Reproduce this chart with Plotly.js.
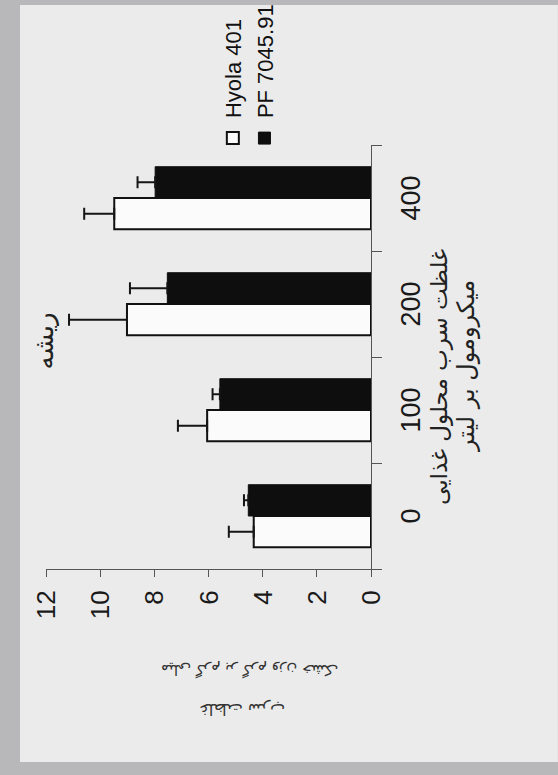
<!DOCTYPE html>
<html>
<head>
<meta charset="utf-8">
<script src="https://cdn.plot.ly/plotly-3.0.1.min.js"></script>
<style>
  html, body { margin: 0; padding: 0; background: #b8b8ba; overflow: hidden; width: 558px; height: 775px; }
  #chart { position: absolute; left: 0; top: 0; width: 775px; height: 558px;
           transform-origin: 0 0; transform: translate(0px, 775px) rotate(-90deg); }
</style>
</head>
<body>
<div id="chart"></div>
<script>
// Data
const categories = ['0', '100', '200', '400'];
const seriesNames = ['Hyola 401', 'PF 7045.91'];
const hyolaValues = [4.33, 6.05, 9.01, 9.48];
const hyolaErrors = [0.92, 1.08, 2.14, 1.11];
const pfValues = [4.53, 5.58, 7.52, 7.97];
const pfErrors = [0.16, 0.27, 1.38, 0.65];
const valueTicks = [0, 2, 4, 6, 8, 10, 12];

const chartTitle = 'ریشه';
const xTitleLine1 = 'غلظت سرب محلول غذایی';
const xTitleLine2 = 'میکرومول بر لیتر';
const yTitleLine1 = 'غلظت سرب';
const yTitleLine2 = 'میلی گرم بر گرم وزن خشک';

const latin = 'Liberation Sans, Arial, sans-serif';
const persian = 'DejaVu Sans, Noto Sans, sans-serif';

const zeros = categories.map(() => 0);

const traces = [
  {
    type: 'bar', name: seriesNames[0], x: categories, y: hyolaValues,
    marker: { color: '#fbfbfb', line: { color: '#111', width: 2 } },
    error_y: { type: 'data', array: hyolaErrors, arrayminus: zeros, symmetric: false,
               color: '#151515', thickness: 2, width: 6 }
  },
  {
    type: 'bar', name: seriesNames[1], x: categories, y: pfValues,
    marker: { color: '#0e0e0e', line: { color: '#0e0e0e', width: 1 } },
    error_y: { type: 'data', array: pfErrors, arrayminus: zeros, symmetric: false,
               color: '#151515', thickness: 2, width: 6 }
  }
];

const layout = {
  width: 775, height: 558, autosize: false,
  margin: { l: 206, r: 145, t: 46, b: 187, autoexpand: false },
  paper_bgcolor: '#b8b8ba',
  plot_bgcolor: 'rgba(0,0,0,0)',
  barmode: 'group', bargap: 0.41, bargroupgap: 0,
  showlegend: true,
  title: { text: chartTitle, x: 0.56, xref: 'container', y: 0.921, yref: 'container',
           xanchor: 'center', yanchor: 'middle', font: { family: persian, size: 26, color: '#222' } },
  xaxis: {
    type: 'category', categoryorder: 'array', categoryarray: categories,
    showline: true, linecolor: '#555', linewidth: 1,
    ticks: 'outside', ticklen: 10, tickcolor: '#555', tickwidth: 1, tickson: 'boundaries',
    ticklabelstandoff: 16,
    tickfont: { family: latin, size: 27, color: '#1a1a1a' },
    showgrid: false, zeroline: false, fixedrange: true
  },
  yaxis: {
    range: [0, 12], tickvals: valueTicks, ticktext: valueTicks.map(String),
    showline: true, linecolor: '#555', linewidth: 1,
    ticks: 'outside', ticklen: 7, tickcolor: '#555', tickwidth: 1,
    ticklabelstandoff: 8,
    tickfont: { family: latin, size: 26, color: '#1a1a1a' },
    showgrid: false, zeroline: false, fixedrange: true
  },
  legend: {
    xref: 'container', yref: 'container', x: 0.796, y: 0.62, xanchor: 'left', yanchor: 'top',
    bgcolor: 'rgba(0,0,0,0)', borderwidth: 0, traceorder: 'normal',
    font: { family: latin, size: 22, color: '#111' }
  },
  shapes: [
    { type: 'rect', xref: 'paper', yref: 'paper', x0: -0.455, x1: 1.33, y0: -0.575, y1: 1.08,
      fillcolor: '#ebebeb', line: { width: 0 }, layer: 'below' }
  ],
  annotations: [
    { text: xTitleLine1, xref: 'paper', yref: 'paper', x: 0.453, y: -0.212, showarrow: false,
      xanchor: 'center', yanchor: 'middle', font: { family: persian, size: 23, color: '#222' } },
    { text: xTitleLine2, xref: 'paper', yref: 'paper', x: 0.479, y: -0.292, showarrow: false,
      xanchor: 'center', yanchor: 'middle', font: { family: persian, size: 24, color: '#222' } },
    { text: yTitleLine1, xref: 'paper', yref: 'paper', x: -0.330, y: 0.394, showarrow: false,
      textangle: -90, xanchor: 'center', yanchor: 'middle', font: { family: persian, size: 16, color: '#333' } },
    { text: yTitleLine2, xref: 'paper', yref: 'paper', x: -0.238, y: 0.372, showarrow: false,
      textangle: -90, xanchor: 'center', yanchor: 'middle', font: { family: persian, size: 15, color: '#333' } }
  ]
};

Plotly.newPlot('chart', traces, layout, { displayModeBar: false, staticPlot: true, responsive: false });
</script>
</body>
</html>
